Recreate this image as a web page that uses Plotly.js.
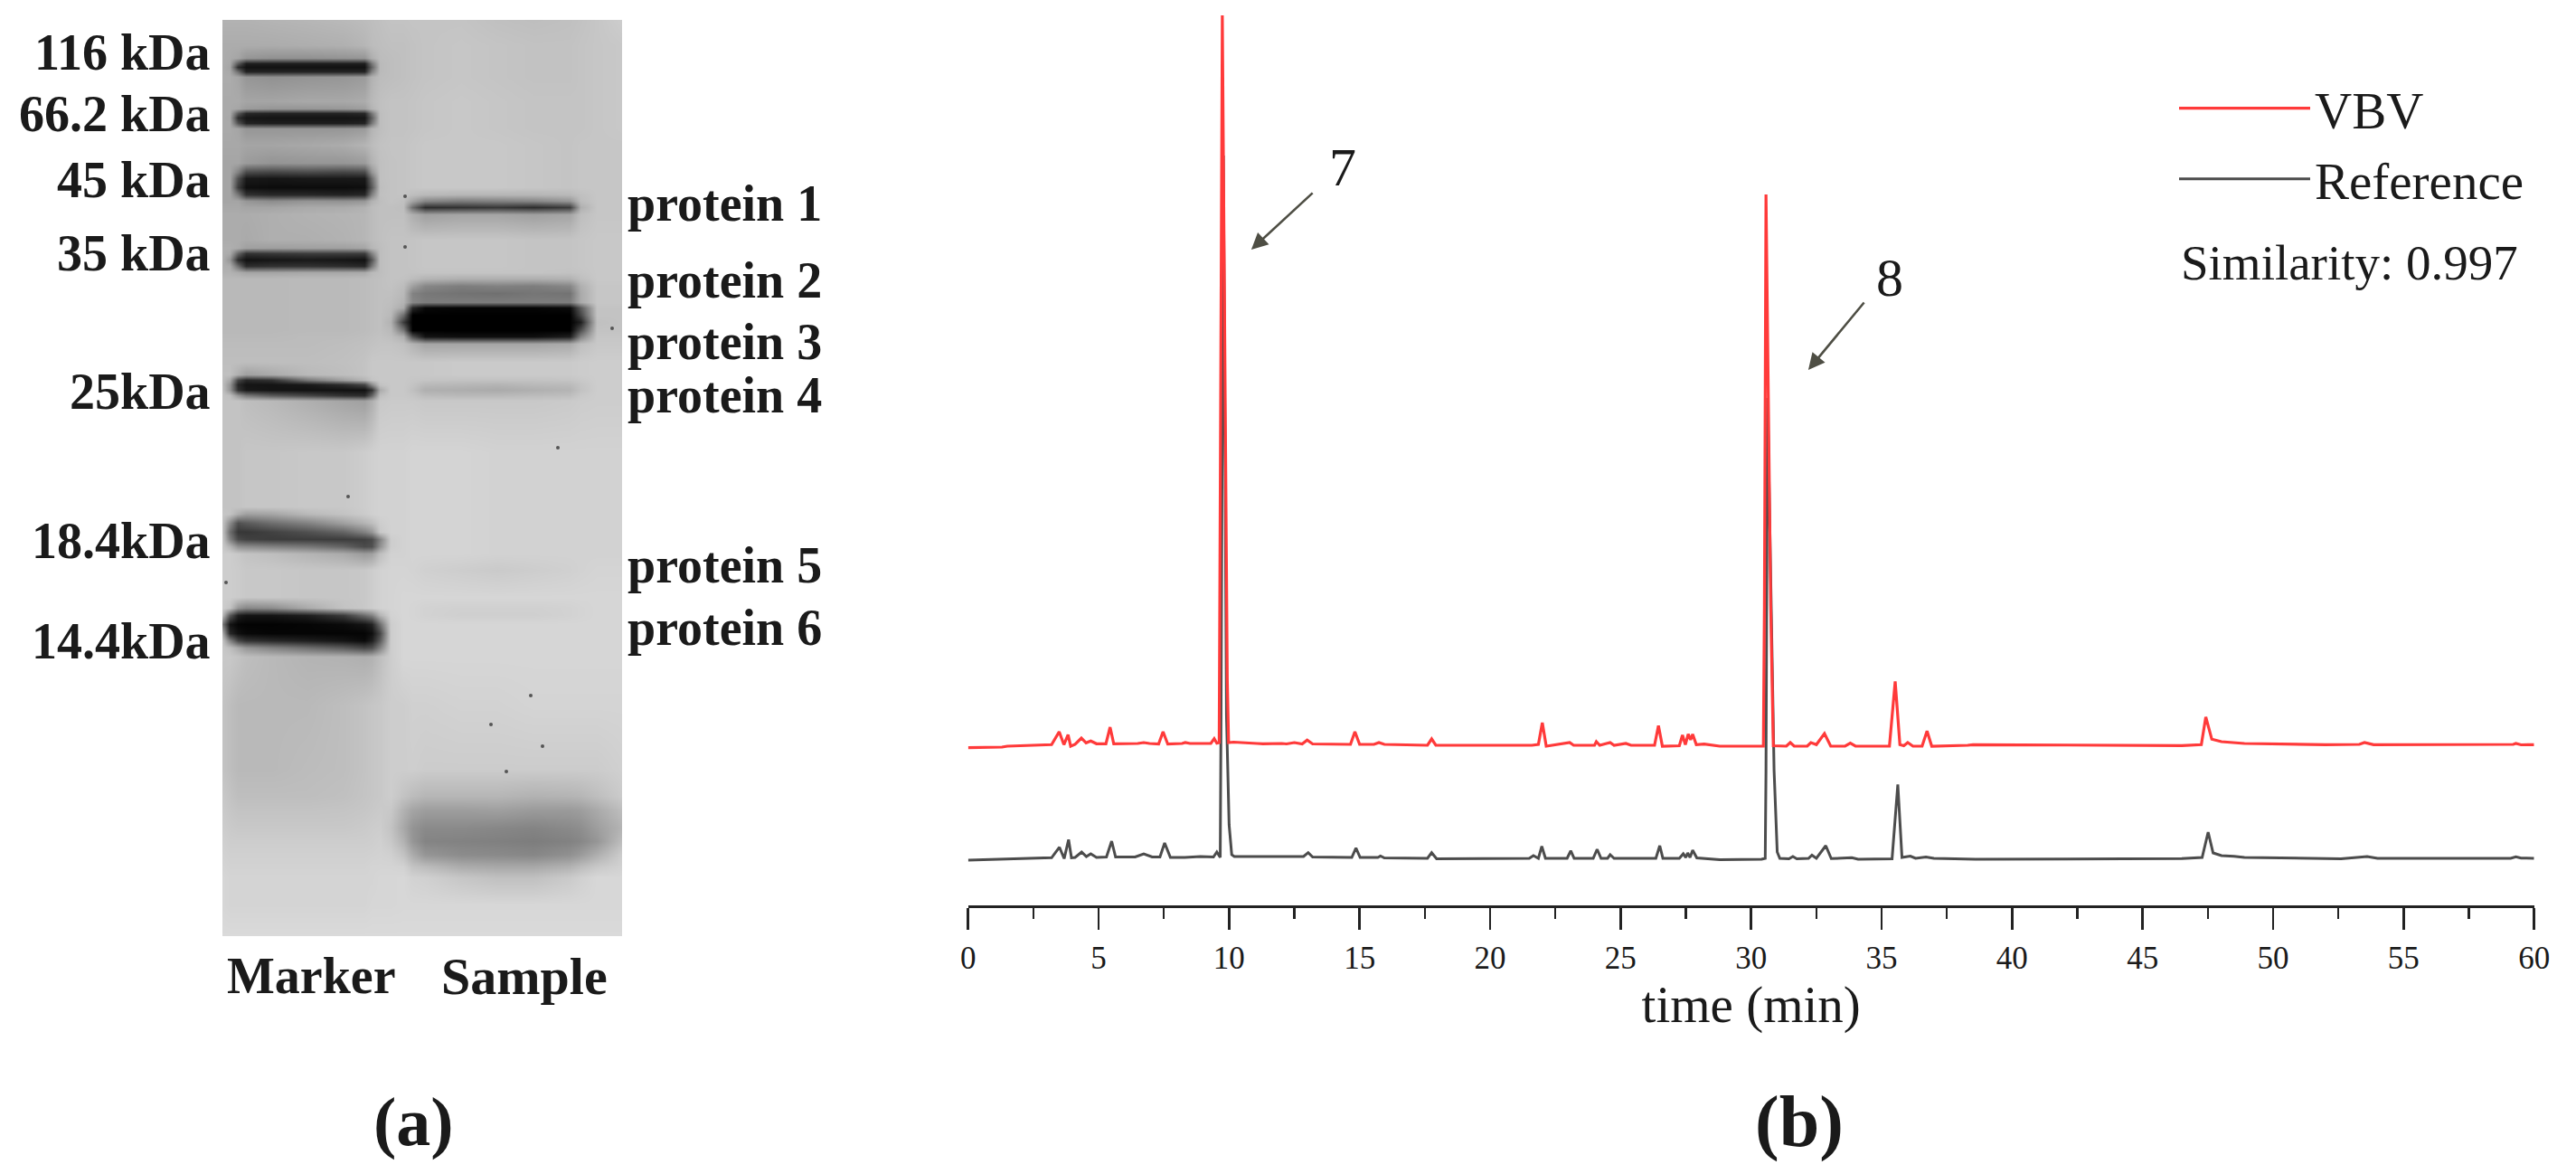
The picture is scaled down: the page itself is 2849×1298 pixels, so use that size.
<!DOCTYPE html>
<html><head><meta charset="utf-8">
<script src="https://cdn.plot.ly/plotly-3.0.1.min.js"></script>
<style>html,body{margin:0;padding:0;background:#fff}</style></head>
<body><div id="chart" style="width:2849px;height:1298px"></div>
<script>
// ---- panel (b): chromatograms. Time in minutes, signal in arbitrary detector units.
const vbvTime = [0,1.3,1.5,3.2,3.49,3.67,3.83,3.93,4.1,4.34,4.52,4.7,4.92,5.28,5.44,5.58,6.5,6.73,6.95,7.3,7.47,7.65,8.2,8.32,8.5,9.3,9.43,9.53,9.62,9.66,9.74,9.865,9.93,9.98,10.17,11.07,11.3,12.02,12.2,12.5,12.8,12.99,13.2,14.65,14.82,15.0,15.55,15.74,15.95,17.6,17.76,17.92,21.6,21.85,22.0,22.15,23.05,23.2,24.0,24.07,24.2,24.6,24.75,25.2,25.4,26.3,26.45,26.6,27.25,27.37,27.48,27.59,27.68,27.76,27.9,28.2,28.8,30.4,30.47,30.51,30.57,30.75,30.85,31.35,31.5,31.65,32.15,32.29,32.5,32.81,33.05,33.6,33.8,34.0,35.3,35.52,35.7,35.85,36.0,36.2,36.55,36.74,36.92,38.3,38.5,46.5,47.25,47.42,47.65,48.02,48.5,48.9,52.0,53.3,53.5,53.85,59.2,59.3,59.5,60];
const vbvSignal = [125.3,126,127,128.7,143,128.7,139.7,127,129,136,130.7,132.7,129.7,129.7,148,129.7,130,131,130,129.5,143,129.3,130,131,130,130,135.3,130.3,131,452,935,452,200,131,131.5,130,129.7,130,129.5,131,129.5,133.7,129.5,129,143,129,129,131,129,128,135,128,128,129,153,127,131,128,128,132,128,131,128,130,128,128,149.7,127,127.5,139.3,128.7,140.3,134,140.3,128.7,129.3,127,127,127,282,737,282,127.5,127,131,127,127,131,128.7,141,127,127,130.3,127,127,198.7,128.7,127.5,131,127,127,143.7,127,128,128.7,127.7,128.7,159.3,134.7,132,131,130,128.7,129,131,128.7,129,130,128.5,128.7];
const refTime = [0,1.5,3.2,3.5,3.68,3.85,3.96,4.1,4.35,4.53,4.7,4.92,5.3,5.5,5.65,6.4,6.73,7.05,7.35,7.53,7.75,8.3,8.9,9.4,9.53,9.66,9.69,9.78,9.9,10.0,10.1,10.2,11,12.85,13.03,13.2,14.7,14.86,15.02,15.7,15.8,15.95,17.6,17.76,17.95,21.5,21.66,21.85,21.98,22.12,22.95,23.09,23.22,23.95,24.1,24.25,24.5,24.6,24.75,26.35,26.5,26.62,27.25,27.4,27.5,27.57,27.66,27.76,27.92,28.8,30.4,30.54,30.57,30.63,30.88,31.0,31.1,31.45,31.6,31.75,32.2,32.33,32.5,32.86,33.07,33.86,34.1,35.4,35.62,35.78,36.1,36.3,36.7,37,38.6,40,46.5,47.28,47.51,47.7,48.02,48.5,48.9,52.6,53.6,54,59.1,59.3,59.5,60];
const refSignal = [1,2,3.7,15.3,2.7,23.7,3.7,4,10,5,8,4,4.5,22,4.5,4.5,8,4.5,4.5,20,4,4,5,4.5,10,4,160,780,160,40,7,5,5,5,9.3,4.5,4,14.3,4,4,5.5,3.5,3,9.3,2.5,3,6,3,16.3,3,3,11.3,3,3,13,3,3,7,3,3,17,3,3,8,4,9,4,12,3.5,1.5,2,3,100,512,100,10,3,2.5,5,2.5,3,6.5,3,17,2.7,3.7,2,2.5,84.7,4,5.5,3,4.5,3,2,2,2.7,4,32,9,6,5.3,4,2.5,5,3,3,4.7,3.3,3];
const timeTicks = [0,5,10,15,20,25,30,35,40,45,50,55,60];

// ---- panel (a): gel densitometry read by eye, grey level 0 (black) to 255 (white).
const gelX = [246,254,263,272,300,340,380,403,411,420,432,446,456,470,510,550,590,630,642,660,688];
const gelY = [22,50,64,70,74,79,85,112,120,125,130,136,142,160,180,190,197,207,215,222,229,237,265,274,280,287,294,301,308,316,324,334,340,348,356,365,372,380,400,414,420,425,431,437,443,500,560,568,578,588,596,604,612,630,660,672,680,690,700,708,716,726,780,850,880,895,915,930,945,958,970,1000,1035];
const gelGrey = [
[178,178,178,178,180,182,185,188,190,192,195,195,196,196,196,192,190,192,194,198,205],
[172,172,172,172,172,174,176,182,188,190,192,192,194,196,198,196,194,194,196,198,200],
[172,170,165,150,145,145,148,150,175,188,190,192,194,196,198,196,194,194,196,198,200],
[172,168,90,30,30,30,30,30,120,186,190,192,194,196,198,196,194,194,196,198,200],
[172,165,45,18,18,18,18,18,100,186,190,192,194,196,198,196,194,194,196,198,200],
[172,168,110,35,35,35,35,35,130,186,190,192,194,196,198,196,194,194,196,198,200],
[172,172,165,150,145,148,150,155,178,188,190,192,194,196,198,196,194,194,196,198,200],
[170,170,170,165,165,168,168,172,185,192,195,195,196,198,200,198,196,196,196,198,200],
[170,170,165,155,150,150,152,158,180,192,195,195,196,198,200,198,196,196,196,198,200],
[170,170,90,40,35,35,35,40,120,190,195,195,196,198,200,198,196,196,196,198,200],
[170,168,45,22,20,20,20,22,95,190,195,195,196,198,200,198,196,196,196,198,200],
[170,170,85,35,30,30,30,35,120,190,195,195,196,198,200,198,196,196,196,198,200],
[170,170,165,150,150,150,150,155,180,190,195,195,196,198,200,198,196,196,196,198,200],
[168,168,168,165,165,168,172,180,188,194,196,196,198,200,200,200,198,196,198,198,198],
[165,165,165,155,148,150,150,155,178,192,195,196,198,200,200,200,198,196,198,198,198],
[165,165,130,75,70,75,70,75,150,192,195,196,198,200,200,200,198,196,198,198,198],
[165,165,80,25,22,25,25,25,110,192,195,196,198,200,200,200,198,196,198,198,198],
[165,165,60,15,12,12,12,15,90,190,195,196,198,200,200,200,198,196,198,198,198],
[165,165,120,50,40,40,35,40,130,192,195,196,190,185,182,182,182,185,192,198,198],
[165,165,165,150,140,148,145,150,178,190,195,192,165,135,125,130,135,150,188,198,198],
[168,168,168,165,165,170,172,178,188,192,192,190,110,45,50,55,45,60,175,198,198],
[172,172,172,172,175,178,180,182,188,192,192,192,175,160,165,165,160,165,190,198,198],
[172,172,172,170,175,175,178,182,188,192,195,195,196,198,198,198,196,196,198,200,200],
[175,175,170,160,158,160,160,165,182,190,195,195,196,198,198,198,196,196,198,200,200],
[175,170,100,50,55,60,60,60,130,190,195,195,196,198,198,198,196,196,198,200,200],
[175,150,45,18,22,25,22,18,85,190,195,195,196,198,198,198,196,196,198,200,200],
[175,172,110,45,50,50,45,40,120,190,195,195,196,198,198,198,196,196,198,200,200],
[178,178,172,165,165,168,168,170,185,190,195,195,195,196,196,196,196,194,196,200,200],
[185,185,185,185,185,186,186,188,190,192,195,194,188,180,175,175,175,178,190,200,200],
[185,185,185,185,185,186,186,188,190,192,194,188,160,135,125,130,125,135,175,198,198],
[185,185,185,185,185,186,186,188,190,192,192,185,130,120,115,112,118,115,170,198,198],
[185,185,185,185,185,186,186,188,190,192,190,180,135,125,125,125,125,125,170,198,198],
[185,185,185,185,185,186,186,188,190,192,188,170,40,8,5,5,5,10,90,195,195],
[185,185,185,185,185,186,186,188,190,192,185,110,0,0,0,0,0,0,70,195,195],
[185,185,185,185,185,186,186,188,190,192,178,60,0,0,0,0,0,0,30,192,195],
[185,185,185,185,185,186,186,188,190,192,185,120,0,0,0,0,0,0,80,195,195],
[186,186,186,186,186,188,188,190,192,194,190,175,80,20,15,15,15,30,130,198,198],
[188,188,188,188,188,188,190,192,194,196,196,192,180,165,165,165,165,170,190,200,200],
[190,190,190,190,190,190,192,195,200,200,200,200,200,200,202,202,202,202,204,205,205],
[192,192,175,160,170,185,190,195,200,200,200,200,200,200,202,202,202,202,204,205,205],
[190,170,70,40,50,120,160,180,195,200,200,200,198,196,194,194,194,196,200,205,205],
[190,150,40,20,20,25,45,70,140,195,200,200,196,185,183,180,185,187,196,205,205],
[192,150,50,25,20,18,18,18,50,170,200,200,192,175,173,170,175,180,194,205,205],
[195,190,150,120,90,70,50,45,100,190,200,200,197,188,185,185,188,190,200,205,205],
[195,195,195,190,185,175,165,160,175,200,202,202,202,200,200,200,200,202,204,205,205],
[195,195,195,198,198,200,200,205,208,210,210,210,212,212,212,210,210,210,210,210,210],
[195,195,195,198,198,200,200,205,208,210,210,210,212,212,212,210,210,210,210,210,210],
[198,195,175,160,165,185,195,203,208,210,210,210,212,212,212,210,210,210,210,210,210],
[195,140,80,90,110,130,160,180,190,205,210,210,212,212,212,210,210,210,210,210,210],
[195,110,55,55,65,80,100,130,150,200,210,210,212,212,212,210,210,210,210,210,210],
[198,130,75,65,60,60,60,65,75,130,205,210,212,212,212,210,210,210,210,210,210],
[200,180,145,140,130,120,100,75,80,145,205,210,212,212,212,210,210,210,210,210,210],
[205,205,200,195,190,180,170,155,160,190,210,210,212,212,212,210,210,210,210,210,210],
[205,205,203,200,200,198,198,200,205,210,212,212,211,208,205,202,205,208,210,212,212],
[205,205,203,200,200,198,198,200,205,210,212,214,214,214,214,214,214,214,214,214,214],
[205,195,150,135,140,170,195,200,205,210,212,214,213,210,208,208,208,210,212,214,214],
[185,90,30,20,20,30,60,110,130,180,210,214,213,210,207,207,207,210,212,214,214],
[120,20,5,3,3,5,10,20,35,110,205,214,214,214,214,214,214,214,214,214,214],
[170,40,15,8,5,5,5,5,15,70,205,214,214,214,214,214,214,214,214,214,214],
[195,130,70,50,40,30,20,10,30,90,205,214,214,214,214,214,214,214,214,214,214],
[200,190,170,150,130,110,90,70,80,130,205,214,214,214,214,214,214,214,214,214,214],
[200,200,195,190,185,180,178,175,178,190,205,214,214,214,214,214,214,214,214,214,214],
[195,190,185,185,185,185,190,195,198,200,205,205,208,208,210,210,212,212,212,212,212],
[195,190,185,185,185,188,190,195,198,200,205,205,206,204,204,204,204,204,204,204,208],
[200,195,190,190,190,190,192,196,198,200,205,195,188,182,182,182,178,180,182,190,203],
[202,198,195,195,195,195,196,198,200,202,200,178,165,158,158,160,155,155,158,170,190],
[205,202,200,200,200,200,200,202,204,205,195,168,148,138,138,135,132,138,142,158,180],
[208,205,205,205,205,205,205,205,206,208,200,178,150,132,130,128,125,130,135,150,190],
[210,208,208,208,208,208,208,208,209,210,208,195,172,150,140,138,135,145,155,175,205],
[212,210,210,210,210,210,210,210,212,212,212,210,195,188,172,168,168,178,188,200,210],
[214,212,212,212,212,212,212,212,212,214,214,215,210,208,198,192,192,202,208,215,215],
[214,212,212,212,212,212,212,212,214,214,214,215,215,215,215,215,215,215,215,215,215],
[218,218,218,218,218,218,218,218,218,218,218,218,218,218,218,218,218,218,218,218,218]
];
const speckX = [448,448,677,617,385,250,587,543,600,560];
const speckY = [217,273,363,495,549,644,769,801,825,853];

const markerLabels = ["116 kDa","66.2 kDa","45 kDa","35 kDa","25kDa","18.4kDa","14.4kDa"];
const proteinLabels = ["protein 1","protein 2","protein 3","protein 4","protein 5","protein 6"];

// ---- layout helpers: page pixels to paper fractions
const W = 2849, H = 1298;
const px = x => x / W, py = y => 1 - y / H;
const SERIF = '"Liberation Serif", serif';
const INK = '#1a1a1a';

const markerRowY = [58,126,199,280,433,598,709];
const proteinRowY = [225,310,378,437,625,694];

function label(text, x, y, size, bold, anchor) {
  return {text: bold ? '<b>'+text+'</b>' : text, xref:'paper', yref:'paper', x:px(x), y:py(y),
    showarrow:false, xanchor:anchor||'center', yanchor:'middle',
    font:{family:SERIF, size:size, color:INK}};
}
function arrow(hx, hy, tx, ty) {
  return {x:hx, y:hy, ax:tx, ay:ty, xref:'x', yref:'y', axref:'x', ayref:'y', text:'', showarrow:true,
    arrowhead:2, arrowsize:1.4, arrowwidth:2.6, arrowcolor:'#4e4e44', standoff:0};
}

const annotations = [
  ...markerLabels.map((t,i)=>label(t,235,markerRowY[i],56,true,'right')),
  ...proteinLabels.map((t,i)=>label(t,692,proteinRowY[i],56,true,'left')),
  label('Marker',344,1079,56,true),
  label('Sample',580,1079,58,true),
  label('(a)',457,1240,76,true),
  label('(b)',1990,1240,80,true),
  label('7',1485,185,60,false),
  label('8',2090,307,60,false),
  label('Similarity: 0.997',2410,290,55,false,'left'),
  arrow(10.85,676,13.25,740),
  arrow(32.19,543,34.37,619)
];

const data = [
  {type:'heatmap', x:gelX, y:gelY, z:gelGrey, xaxis:'x2', yaxis:'y2', zsmooth:'best', zmin:0, zmax:255,
   colorscale:[[0,'#000000'],[1,'#ffffff']], showscale:false, hoverinfo:'skip'},
  {type:'scatter', mode:'markers', x:speckX, y:speckY, xaxis:'x2', yaxis:'y2', showlegend:false,
   marker:{size:4, color:'#555555'}, hoverinfo:'skip'},
  {type:'scatter', mode:'lines', name:'Reference', legendgroup:'b', legendrank:2, x:refTime, y:refSignal, line:{color:'#4c4c4c', width:3}},
  {type:'scatter', mode:'lines', name:'VBV', legendgroup:'a', legendrank:1, x:vbvTime, y:vbvSignal, line:{color:'#ff3a3a', width:3.2}}
];

const layout = {
  width:W, height:H, margin:{l:0,r:0,t:0,b:0}, paper_bgcolor:'#fff', plot_bgcolor:'rgba(0,0,0,0)',
  font:{family:SERIF, color:INK},
  xaxis:{domain:[px(1070.7),px(2802.7)], range:[0,60], tickmode:'array', tickvals:timeTicks,
    showline:true, linecolor:'#222', linewidth:2.6, showgrid:false, zeroline:false,
    ticks:'outside', ticklen:24, tickwidth:2.6, tickcolor:'#222', ticklabelstandoff:1,
    minor:{dtick:2.5, ticks:'outside', ticklen:12, tickwidth:2.6, tickcolor:'#222', showgrid:false},
    tickfont:{family:SERIF, size:35, color:INK},
    title:{text:'time (min)', font:{family:SERIF, size:57, color:INK}, standoff:0}},
  yaxis:{domain:[py(1001),py(8)], range:[-49,944], visible:false},
  xaxis2:{domain:[px(246),px(688)], range:[246,688], visible:false, anchor:'y2'},
  yaxis2:{domain:[py(1035),py(22)], range:[1035,22], visible:false, anchor:'x2'},
  legend:{x:px(2405), y:py(76), xanchor:'left', yanchor:'top', bgcolor:'rgba(0,0,0,0)', itemwidth:145,
    tracegroupgap:1, font:{family:SERIF, size:57, color:INK}},
  annotations:annotations
};
Plotly.newPlot('chart', data, layout, {staticPlot:true, displayModeBar:false});
</script></body></html>
